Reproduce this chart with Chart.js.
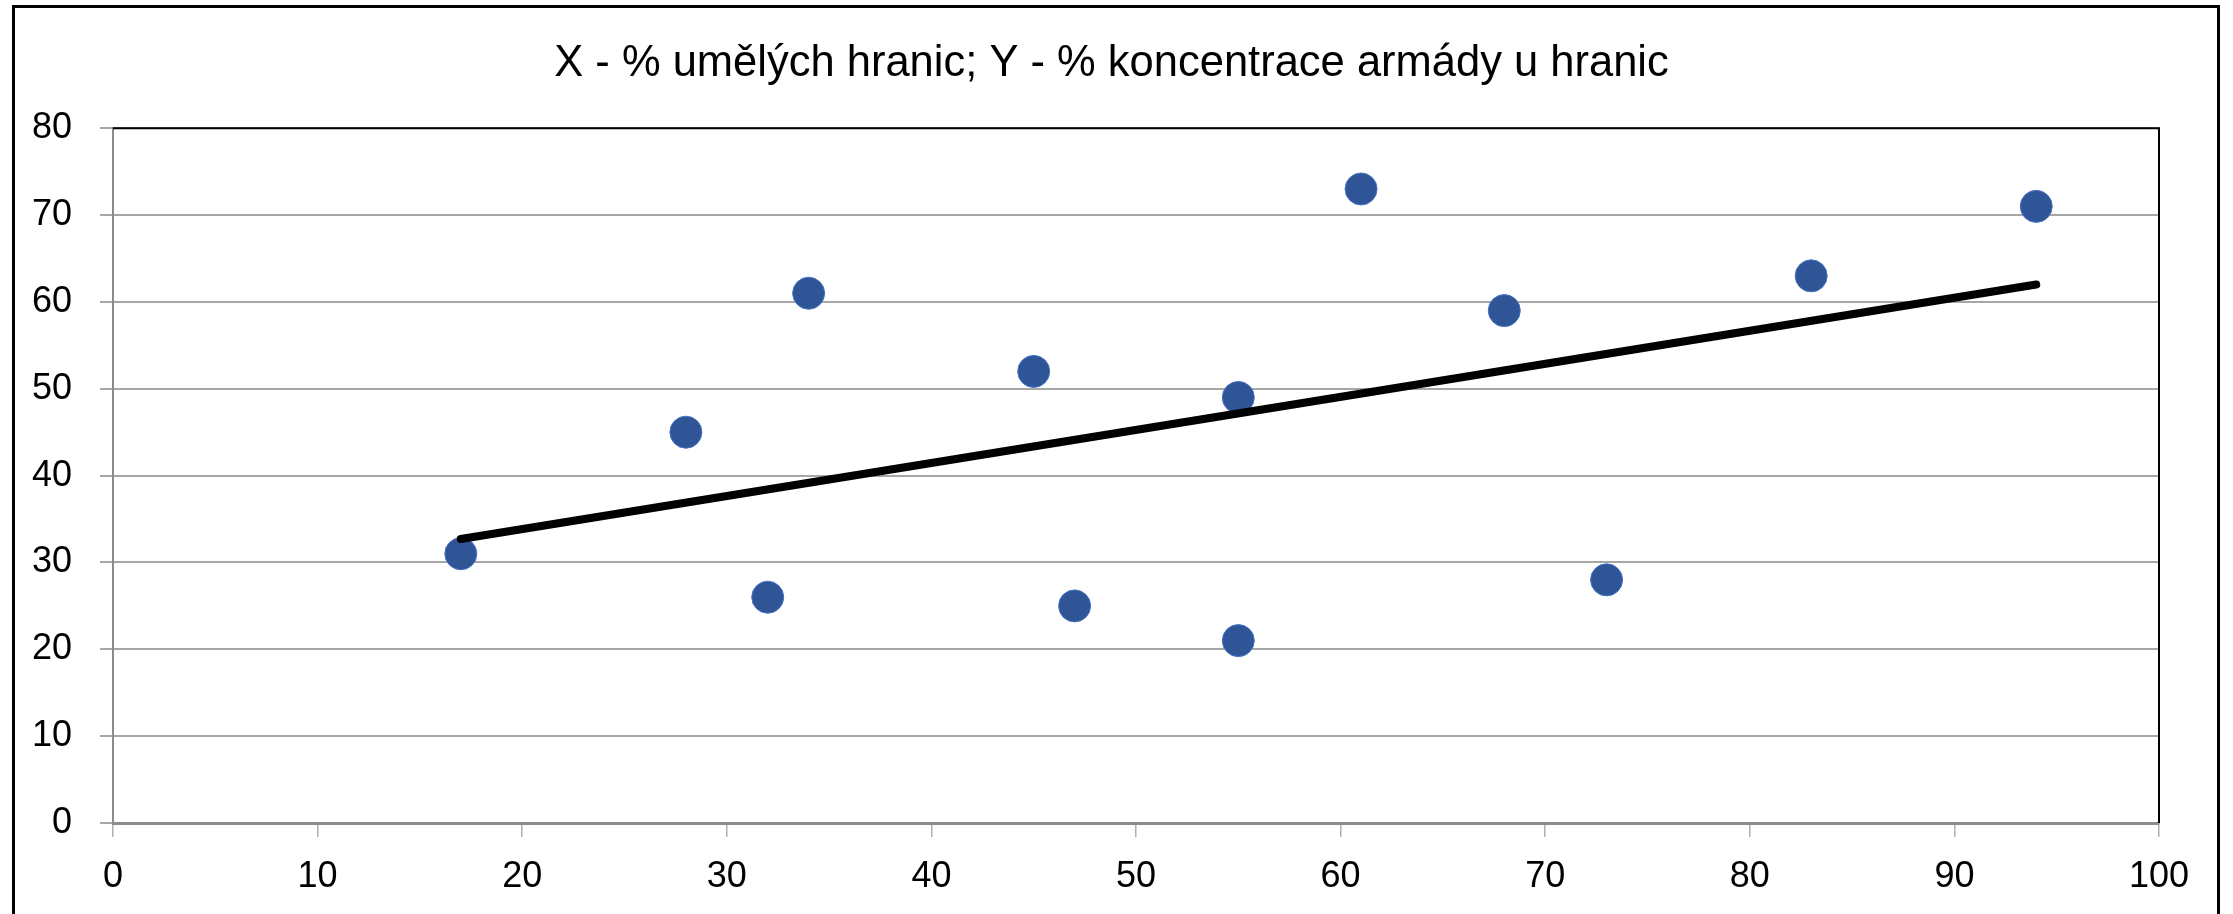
<!DOCTYPE html>
<html>
<head>
<meta charset="utf-8">
<script src="https://cdn.jsdelivr.net/npm/chart.js@4/dist/chart.umd.min.js"></script>
<style>
  html, body { margin: 0; padding: 0; background: #ffffff; }
  #wrap { width: 2233px; height: 914px; position: relative; }
  canvas { display: block; }
</style>
</head>
<body>
<div id="wrap"><canvas id="c" width="2233" height="914"></canvas></div>
<script>
// Data
const titleText = "X - % umělých hranic; Y - % koncentrace armády u hranic";
const pointsX = [17, 28, 32, 34, 45, 47, 55, 55, 61, 68, 73, 83, 94];
const pointsY = [31, 45, 26, 61, 52, 25, 49, 21, 73, 59, 28, 63, 71];
const trendX = [17, 94];
const trendY = [32.7, 62.0];
const xTicks = [0, 10, 20, 30, 40, 50, 60, 70, 80, 90, 100];
const yTicks = [0, 10, 20, 30, 40, 50, 60, 70, 80];

const scatterData = pointsX.map((x, i) => ({ x: x, y: pointsY[i] }));
const trendData = trendX.map((x, i) => ({ x: x, y: trendY[i] }));

const frame = {
  id: 'frame',
  beforeDraw(chart) {
    const ctx = chart.ctx;
    ctx.save();
    ctx.fillStyle = '#ffffff';
    ctx.fillRect(0, 0, chart.width, chart.height);
    ctx.strokeStyle = '#000000';
    ctx.lineWidth = 3;
    ctx.strokeRect(13.5, 6.5, 2205, 940);
    ctx.restore();
  },
  afterDatasetsDraw(chart) {
    const a = chart.chartArea;
    const ctx = chart.ctx;
    ctx.save();
    ctx.strokeStyle = '#000000';
    ctx.lineWidth = 2;
    ctx.beginPath();
    ctx.moveTo(a.left, a.top);
    ctx.lineTo(a.right, a.top);
    ctx.lineTo(a.right, a.bottom);
    ctx.stroke();
    ctx.restore();
  }
};

new Chart(document.getElementById('c'), {
  type: 'scatter',
  data: {
    datasets: [
      {
        label: 'trend',
        data: trendData,
        showLine: true,
        pointRadius: 0,
        borderColor: '#000000',
        borderWidth: 8,
        borderCapStyle: 'round',
        fill: false
      },
      {
        label: 'data',
        data: scatterData,
        pointRadius: 16,
        pointHoverRadius: 16,
        backgroundColor: '#2F5597',
        borderColor: '#4472C4',
        borderWidth: 1
      }
    ]
  },
  options: {
    responsive: false,
    animation: false,
    devicePixelRatio: 1,
    layout: { padding: { left: 0, right: 10, top: 0, bottom: 0 } },
    plugins: {
      legend: { display: false },
      tooltip: { enabled: false },
      title: {
        display: true,
        text: titleText,
        color: '#000000',
        font: { family: 'Liberation Sans', size: 43.5, weight: 'normal', lineHeight: 1.2 },
        padding: { top: 38, bottom: 38 }
      }
    },
    scales: {
      x: {
        type: 'linear',
        min: 0, max: 100,
        afterBuildTicks(scale) { scale.ticks = xTicks.map(v => ({ value: v })); },
        afterFit(scale) { scale.height = 91; },
        grid: {
          drawOnChartArea: false,
          drawTicks: true,
          tickLength: 14,
          color: '#B0B0B0',
          lineWidth: 1.5
        },
        border: { display: true, color: '#8C8C8C', width: 3 },
        ticks: {
          color: '#000000',
          padding: 18,
          maxRotation: 0,
          autoSkip: false,
          font: { family: 'Liberation Sans', size: 36 }
        }
      },
      y: {
        type: 'linear',
        position: 'left',
        min: 0, max: 80,
        afterBuildTicks(scale) { scale.ticks = yTicks.map(v => ({ value: v })); },
        afterFit(scale) { scale.width = 113; },
        grid: {
          drawOnChartArea: true,
          drawTicks: true,
          tickLength: 13,
          color: '#A6A6A6',
          lineWidth: 2
        },
        border: { display: true, color: '#8C8C8C', width: 2 },
        ticks: {
          color: '#000000',
          padding: 28,
          autoSkip: false,
          font: { family: 'Liberation Sans', size: 36 }
        }
      },
      yRightSpace: {
        type: 'linear',
        position: 'right',
        min: 0, max: 80,
        display: true,
        afterFit(scale) { scale.width = 64; },
        grid: { display: false, drawTicks: false },
        border: { display: false },
        ticks: { display: false }
      }
    }
  },
  plugins: [frame]
});
</script>
</body>
</html>
